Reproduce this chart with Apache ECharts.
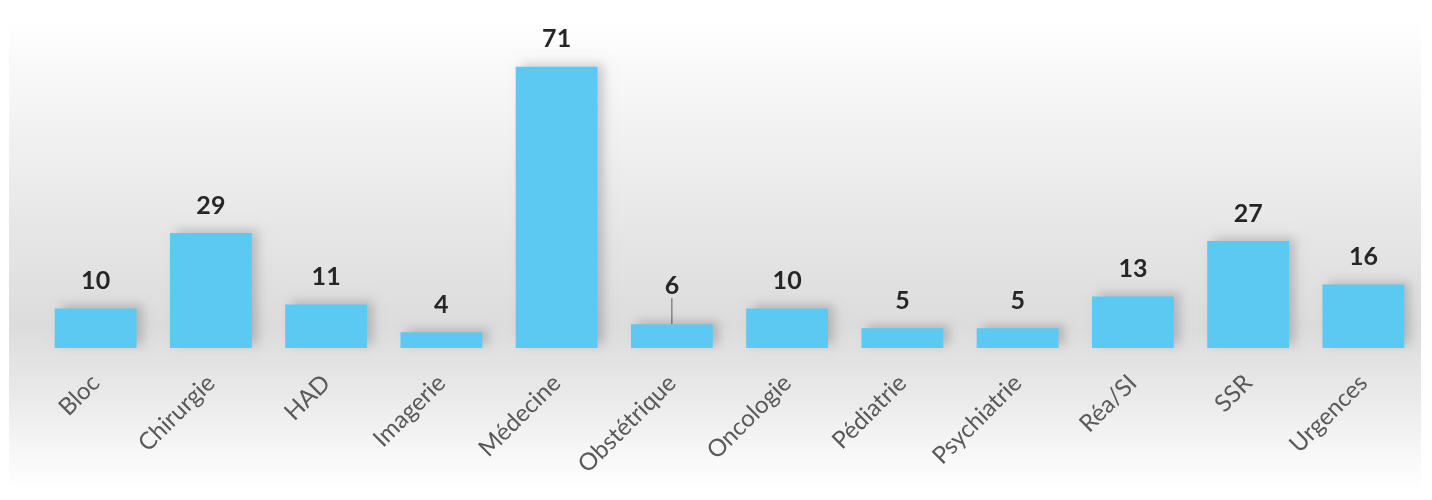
<!DOCTYPE html>
<html>
<head>
<meta charset="utf-8">
<script src="https://cdn.jsdelivr.net/npm/echarts@6/dist/echarts.min.js"></script>
<style>
html,body{margin:0;padding:0;background:#fff;}
#c{width:1432px;height:500px;}
</style>
</head>
<body>
<div id="c"></div>
<script>
const categories = ['Bloc','Chirurgie','HAD','Imagerie','Médecine','Obstétrique','Oncologie','Pédiatrie','Psychiatrie','Réa/SI','SSR','Urgences'];
const values = [10,29,11,4,71,6,10,5,5,13,27,16];

const chart = echarts.init(document.getElementById('c'));
const data = values.map((v,i)=> i===5 ? {value:v, labelLine:{show:true, lineStyle:{color:'#595959', width:1}}} : v);
chart.setOption({
  animation:false,
  backgroundColor:'#ffffff',
  graphic:[{
    type:'rect', z:-10, silent:true,
    shape:{x:9,y:17,width:1412,height:476},
    style:{fill:new echarts.graphic.LinearGradient(0,0,0,1,[
      {offset:0,color:'#ffffff'},
      {offset:0.12,color:'#f8f8f8'},
      {offset:0.45,color:'#e6e6e6'},
      {offset:0.65,color:'#dcdcdc'},
      {offset:0.8,color:'#eaeaea'},
      {offset:0.92,color:'#f8f8f8'},
      {offset:1,color:'#ffffff'}
    ])}
  }],
  grid:{left:38,right:11,top:31,bottom:152,containLabel:false},
  xAxis:{
    type:'category', data:categories,
    axisLine:{show:false}, axisTick:{show:false},
    axisLabel:{rotate:45, margin:31, interval:0, color:'#595959', fontSize:24, fontFamily:'Lato'}
  },
  yAxis:{type:'value', min:0, max:80, show:false, splitLine:{show:false}},
  series:[{
    type:'bar', data:data, barCategoryGap:'29%',
    itemStyle:{color:'#5bc9f1', shadowColor:'rgba(0,0,0,0.18)', shadowBlur:10, shadowOffsetX:6, shadowOffsetY:-3},
    label:{show:true, position:'top', distance:15, color:'#262626', fontSize:25, fontWeight:'bold', fontFamily:'Lato'},
    labelLayout:function(p){ return p.dataIndex===5 ? {dy:-11} : {}; }
  }]
});
</script>
</body>
</html>
